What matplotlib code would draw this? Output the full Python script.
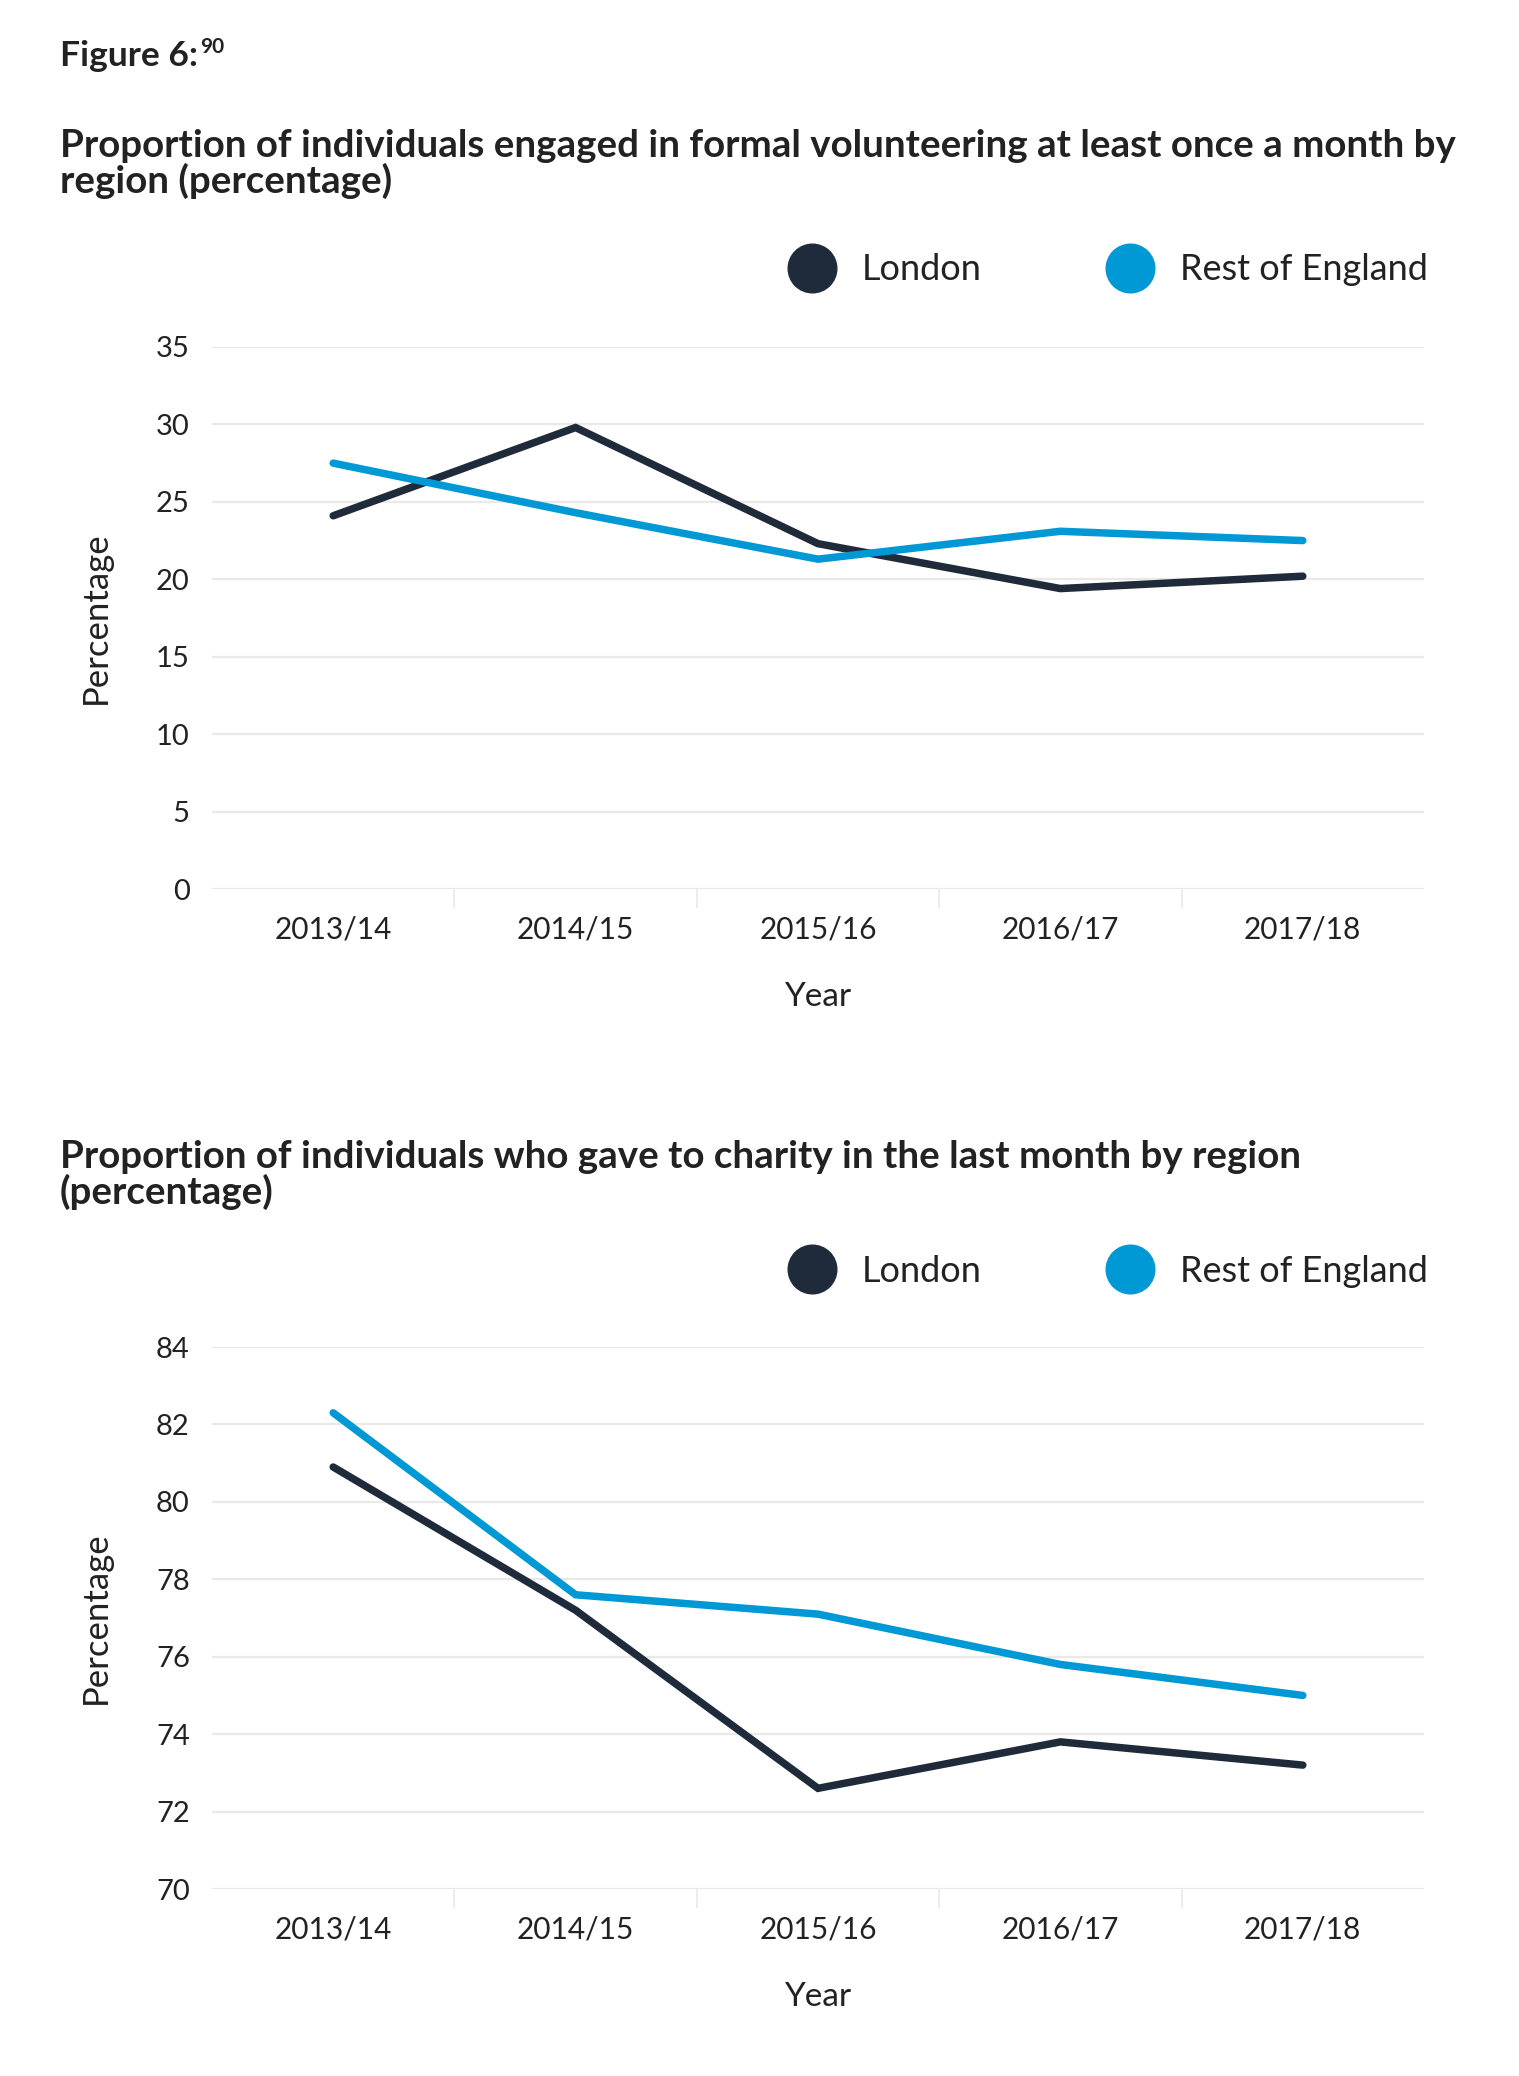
import matplotlib.pyplot as plt
from matplotlib.lines import Line2D
from matplotlib.text import Annotation

plt.rcParams['font.family'] = ['Lato', 'DejaVu Sans']

years = ['2013/14', '2014/15', '2015/16', '2016/17', '2017/18']

# formal volunteering at least once a month (%)
vol_london = [24.1, 29.8, 22.3, 19.4, 20.2]
vol_rest = [27.5, 24.3, 21.3, 23.1, 22.5]

# gave to charity in the last month (%)
give_london = [80.9, 77.2, 72.6, 73.8, 73.2]
give_rest = [82.3, 77.6, 77.1, 75.8, 75.0]

dark = '#1f2a3b'
blue = '#0099d5'
grid = '#e9e9e9'
text_col = '#222222'

W, H = 1519, 2076
fig = plt.figure(figsize=(W / 100, H / 100), dpi=100)


def draw_panel(top_px, bottom_px, title_y, legend_y, london, rest, yticks, title):
    ax = fig.add_axes([212 / W, 1 - bottom_px / H, (1424 - 212) / W, (bottom_px - top_px) / H])
    x = range(len(years))
    ax.plot(x, london, color=dark, lw=5.4, solid_capstyle='round', solid_joinstyle='miter', clip_on=False, zorder=3)
    ax.plot(x, rest, color=blue, lw=5.4, solid_capstyle='round', solid_joinstyle='miter', clip_on=False, zorder=3)

    ax.set_xlim(-0.5, len(years) - 0.5)
    ax.set_ylim(yticks[0], yticks[-1])
    ax.set_yticks(yticks)
    ax.set_xticks(list(x))
    ax.set_xticklabels(years)
    ax.set_xticks([i + 0.5 for i in range(len(years) - 1)], minor=True)

    for s in ax.spines.values():
        s.set_visible(False)
    ax.grid(axis='y', color=grid, lw=1.6, zorder=0)
    ax.set_axisbelow(True)

    ax.tick_params(axis='y', length=0, pad=16, labelsize=21, labelcolor=text_col)
    ax.tick_params(axis='x', which='major', length=0, pad=19, labelsize=21.5, labelcolor=text_col)
    ax.tick_params(axis='x', which='minor', length=14, width=1.2, color=grid, direction='out')

    ax.set_ylabel('Percentage', fontsize=25, color=text_col, labelpad=32)
    ax.set_xlabel('Year', fontsize=24, color=text_col, labelpad=28)

    fig.text(60 / W, 1 - title_y / H, title, fontsize=27.7, fontweight='bold', color=text_col,
             va='center', ha='left', linespacing=1.0)

    handles = [
        Line2D([], [], marker='o', linestyle='none', markersize=35, color=dark),
        Line2D([], [], marker='o', linestyle='none', markersize=35, color=blue),
    ]
    fig.legend(handles, ['London', 'Rest of England'], ncol=2, frameon=False,
               loc='center right', bbox_to_anchor=(1428 / W, 1 - legend_y / H),
               fontsize=26, handlelength=1.5, handletextpad=0.64, columnspacing=3.35,
               borderpad=0, borderaxespad=0, labelcolor=text_col)
    return ax


fig_label = fig.text(60 / W, 1 - 56 / H, 'Figure 6:', fontsize=25.5, fontweight='bold', color=text_col,
                     va='center', ha='left')
fig.add_artist(Annotation('90', xy=(1, 0.78), xycoords=fig_label, xytext=(1.5, 0),
                          textcoords='offset points', fontsize=15, fontweight='bold',
                          color=text_col, va='center', ha='left'))

draw_panel(347, 889, 164, 270, vol_london, vol_rest, [0, 5, 10, 15, 20, 25, 30, 35],
           'Proportion of individuals engaged in formal volunteering at least once a month by\nregion (percentage)')
draw_panel(1347, 1889, 1175, 1271, give_london, give_rest, [70, 72, 74, 76, 78, 80, 82, 84],
           'Proportion of individuals who gave to charity in the last month by region\n(percentage)')

fig.savefig('out.png', dpi=100, facecolor='white')
